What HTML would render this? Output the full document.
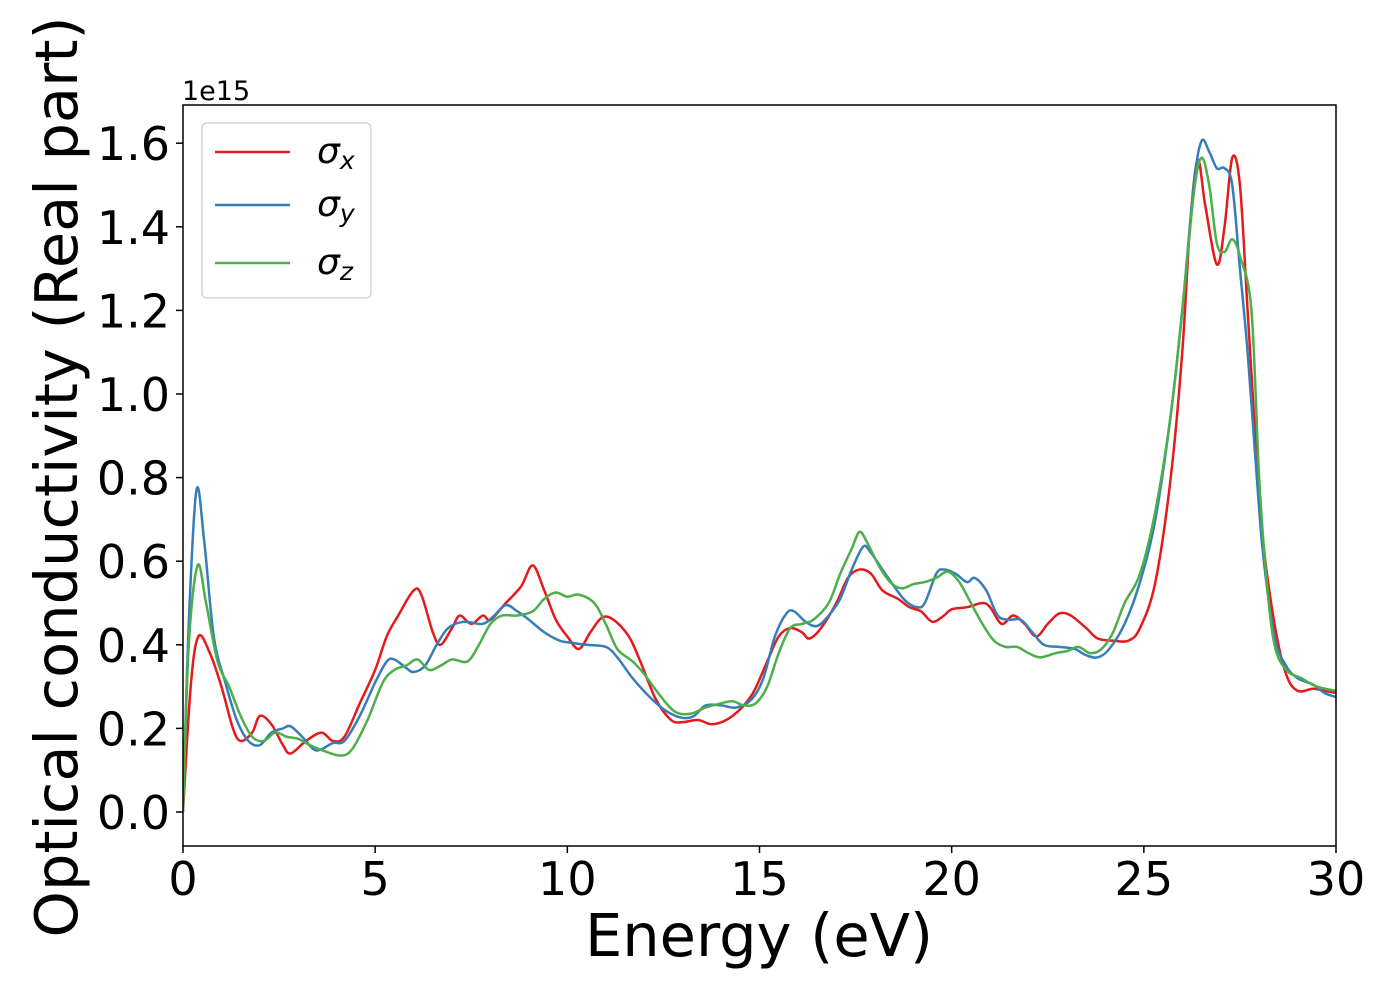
<!DOCTYPE html>
<html><head><meta charset="utf-8"><style>
body{margin:0;background:#fff;}
svg{display:block;font-family:"DejaVu Sans","Liberation Sans",sans-serif;}
</style></head><body>
<svg id="chart" width="1400" height="1000" xmlns="http://www.w3.org/2000/svg">
<rect width="1400" height="1000" fill="#fff"/>
<g id="ticks"></g>
<g id="series" clip-path="url(#clip)"></g>
<defs><clipPath id="clip"><rect x="183" y="105" width="1153" height="741"/></clipPath></defs>
<rect x="183" y="105" width="1153" height="741" fill="none" stroke="#000" stroke-width="1.5"/>
<text x="182" y="100" font-size="27">1e15</text>
<text x="759" y="956" font-size="59" text-anchor="middle">Energy (eV)</text>
<text transform="translate(77,477) rotate(-90)" font-size="59" text-anchor="middle">Optical conductivity (Real part)</text>
<g>
<rect x="202" y="123" width="169" height="175" rx="5" fill="#fff" stroke="#ccc" stroke-width="1.2"/>
<line x1="215" y1="152" x2="290" y2="152" stroke="#e41a1c" stroke-width="2.5"/>
<line x1="215" y1="205" x2="290" y2="205" stroke="#377eb8" stroke-width="2.5"/>
<line x1="215" y1="263" x2="290" y2="263" stroke="#4daf4a" stroke-width="2.5"/>
<text x="317" y="163" font-size="36" font-style="italic">σ<tspan font-size="25" dy="6">x</tspan></text>
<text x="317" y="216" font-size="36" font-style="italic">σ<tspan font-size="25" dy="6">y</tspan></text>
<text x="317" y="274" font-size="36" font-style="italic">σ<tspan font-size="25" dy="6">z</tspan></text>
</g>
</svg>
<script>
const xTicks=[0,5,10,15,20,25,30];
const yTicks=[0.0,0.2,0.4,0.6,0.8,1.0,1.2,1.4,1.6];
const sxE=[0,0.2,0.4,0.7,1.0,1.3,1.5,1.8,2.0,2.3,2.6,2.8,3.2,3.6,3.9,4.2,4.6,5.0,5.3,5.6,6.0,6.2,6.5,6.7,7.0,7.2,7.5,7.8,8.0,8.4,8.8,9.1,9.4,9.7,10.0,10.3,10.6,10.9,11.2,11.6,11.9,12.3,12.7,13.0,13.4,13.8,14.3,14.8,15.2,15.5,15.8,16.1,16.3,16.6,17.0,17.3,17.6,17.9,18.2,18.6,18.9,19.2,19.5,19.8,20.0,20.4,20.8,21.0,21.3,21.6,21.9,22.2,22.5,22.8,23.1,23.5,23.8,24.2,24.6,24.9,25.3,25.7,26.0,26.2,26.4,26.6,26.9,27.1,27.3,27.5,27.7,27.9,28.1,28.4,28.7,29.0,29.4,29.7,30];
const sxV=[0,0.3,0.42,0.38,0.3,0.2,0.17,0.19,0.23,0.21,0.16,0.14,0.17,0.19,0.17,0.18,0.26,0.34,0.42,0.47,0.53,0.52,0.43,0.40,0.44,0.47,0.45,0.47,0.46,0.50,0.54,0.59,0.53,0.46,0.42,0.39,0.43,0.465,0.46,0.42,0.36,0.27,0.22,0.215,0.22,0.21,0.23,0.28,0.36,0.42,0.44,0.43,0.415,0.44,0.50,0.56,0.58,0.57,0.53,0.51,0.49,0.48,0.455,0.47,0.485,0.49,0.50,0.49,0.45,0.47,0.45,0.42,0.45,0.475,0.47,0.44,0.415,0.41,0.41,0.44,0.55,0.80,1.10,1.40,1.56,1.45,1.31,1.40,1.565,1.50,1.20,0.90,0.65,0.45,0.33,0.29,0.295,0.29,0.285];
const syE=[0,0.15,0.35,0.55,0.8,1.1,1.4,1.7,2.0,2.3,2.6,2.8,3.1,3.4,3.6,3.9,4.2,4.6,5.0,5.3,5.5,5.8,6.0,6.3,6.6,6.9,7.3,7.8,8.1,8.4,8.7,9.0,9.4,9.8,10.1,10.5,11.0,11.3,11.7,12.2,12.6,13.0,13.3,13.6,14.0,14.4,14.8,15.1,15.4,15.7,15.9,16.2,16.5,16.8,17.1,17.4,17.7,17.9,18.2,18.5,18.8,19.1,19.3,19.6,19.8,20.1,20.4,20.6,20.9,21.2,21.5,21.8,22.1,22.4,22.8,23.2,23.5,23.8,24.1,24.5,24.9,25.3,25.7,26.0,26.3,26.5,26.7,26.9,27.1,27.3,27.5,27.7,27.9,28.1,28.4,28.7,29.0,29.4,29.7,30];
const syV=[0,0.45,0.77,0.65,0.42,0.31,0.22,0.17,0.16,0.19,0.20,0.205,0.18,0.15,0.15,0.165,0.17,0.23,0.31,0.36,0.365,0.345,0.335,0.35,0.40,0.44,0.455,0.45,0.47,0.495,0.48,0.46,0.43,0.41,0.405,0.40,0.395,0.37,0.32,0.27,0.24,0.225,0.23,0.255,0.255,0.25,0.27,0.32,0.42,0.475,0.48,0.455,0.445,0.47,0.51,0.58,0.635,0.62,0.58,0.54,0.505,0.49,0.50,0.57,0.58,0.57,0.55,0.56,0.53,0.47,0.46,0.46,0.43,0.40,0.395,0.39,0.375,0.37,0.39,0.45,0.55,0.70,0.95,1.20,1.50,1.605,1.58,1.54,1.54,1.50,1.30,1.10,0.85,0.62,0.42,0.35,0.32,0.305,0.285,0.275];
const szE=[0,0.15,0.38,0.6,0.9,1.2,1.5,1.8,2.1,2.4,2.7,3.0,3.3,3.7,4.1,4.4,4.8,5.2,5.5,5.8,6.1,6.4,6.7,7.0,7.4,7.7,8.0,8.3,8.7,9.1,9.4,9.7,10.0,10.3,10.7,11.0,11.3,11.7,12.0,12.4,12.8,13.2,13.6,14.0,14.3,14.6,14.9,15.2,15.5,15.8,16.1,16.4,16.8,17.1,17.4,17.6,17.8,18.1,18.4,18.7,19.0,19.3,19.6,19.9,20.2,20.5,20.8,21.1,21.4,21.7,22.0,22.3,22.7,23.0,23.3,23.6,23.9,24.2,24.5,24.9,25.3,25.7,26.0,26.3,26.5,26.7,26.9,27.1,27.3,27.5,27.8,28.0,28.2,28.4,28.7,29.1,29.5,30];
const szV=[0,0.4,0.59,0.5,0.36,0.30,0.23,0.18,0.17,0.19,0.18,0.175,0.16,0.145,0.135,0.15,0.22,0.31,0.34,0.35,0.365,0.34,0.35,0.365,0.36,0.40,0.45,0.47,0.47,0.48,0.51,0.525,0.515,0.52,0.50,0.45,0.39,0.36,0.33,0.28,0.24,0.235,0.25,0.26,0.265,0.255,0.26,0.30,0.38,0.44,0.45,0.46,0.50,0.57,0.63,0.67,0.645,0.59,0.55,0.535,0.545,0.55,0.56,0.575,0.55,0.50,0.45,0.41,0.395,0.395,0.38,0.37,0.38,0.385,0.395,0.38,0.39,0.43,0.50,0.57,0.72,0.95,1.20,1.48,1.565,1.50,1.36,1.34,1.37,1.33,1.20,0.80,0.55,0.40,0.34,0.32,0.30,0.29];

const X0=183,X1=1336,XMIN=0,XMAX=30;
const YZ=812,YPX=418;
function xs(v){return X0+(v-XMIN)/(XMAX-XMIN)*(X1-X0);}
function ys(v){return YZ-v*YPX;}
const NS="http://www.w3.org/2000/svg";
const tg=document.getElementById('ticks');
xTicks.forEach(t=>{
  const l=document.createElementNS(NS,'line');
  l.setAttribute('x1',xs(t));l.setAttribute('x2',xs(t));l.setAttribute('y1',846);l.setAttribute('y2',853);
  l.setAttribute('stroke','#000');l.setAttribute('stroke-width','1.5');
  
  
  tg.appendChild(l);
  const tx=document.createElementNS(NS,'text');
  tx.setAttribute('x',xs(t));tx.setAttribute('y',895);tx.setAttribute('font-size','46');tx.setAttribute('text-anchor','middle');
  tx.textContent=t;
  
  
  tg.appendChild(tx);
});
yTicks.forEach(t=>{
  const l=document.createElementNS(NS,'line');
  l.setAttribute('x1',176);l.setAttribute('x2',183);l.setAttribute('y1',ys(t));l.setAttribute('y2',ys(t));
  l.setAttribute('stroke','#000');l.setAttribute('stroke-width','1.5');
  
  
  tg.appendChild(l);
  const tx=document.createElementNS(NS,'text');
  tx.setAttribute('x',170);tx.setAttribute('y',ys(t)+17);tx.setAttribute('font-size','46');tx.setAttribute('text-anchor','end');
  tx.textContent=t.toFixed(1);
  
  
  tg.appendChild(tx);
});
function path(E,V){
  const p=E.map((e,i)=>[xs(e),ys(V[i])]);
  let d='M'+p[0][0]+','+p[0][1];
  for(let i=0;i<p.length-1;i++){
    const p0=p[Math.max(0,i-1)],p1=p[i],p2=p[i+1],p3=p[Math.min(p.length-1,i+2)];
    const c1x=p1[0]+(p2[0]-p0[0])/6,c1y=p1[1]+(p2[1]-p0[1])/6;
    const c2x=p2[0]-(p3[0]-p1[0])/6,c2y=p2[1]-(p3[1]-p1[1])/6;
    d+=` C${c1x},${c1y} ${c2x},${c2y} ${p2[0]},${p2[1]}`;
  }
  return d;
}
const sg=document.getElementById('series');
[[sxE,sxV,'#e41a1c','sigma-x-line'],[syE,syV,'#377eb8','sigma-y-line'],[szE,szV,'#4daf4a','sigma-z-line']].forEach(s=>{
  const p=document.createElementNS(NS,'path');
  p.setAttribute('d',path(s[0],s[1]));
  p.setAttribute('fill','none');p.setAttribute('stroke',s[2]);p.setAttribute('stroke-width','2.5');
  
  
  sg.appendChild(p);
});
</script>
</body></html>
